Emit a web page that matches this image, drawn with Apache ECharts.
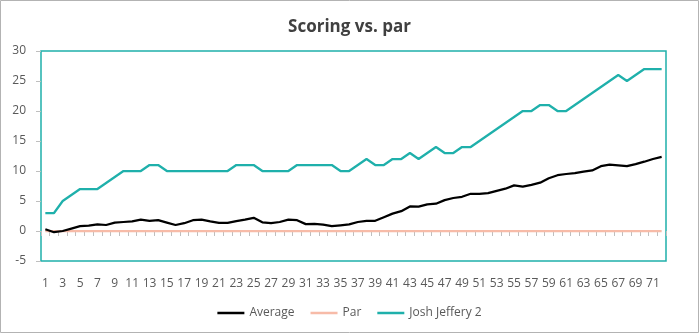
<!DOCTYPE html>
<html>
<head>
<meta charset="utf-8">
<script src="https://cdn.jsdelivr.net/npm/echarts@6/dist/echarts.min.js"></script>
<style>
html,body{margin:0;padding:0;background:#fff;}
#chart{width:699px;height:333px;}
</style>
</head>
<body>
<div id="chart"></div>
<script>
const categories = [];
for (let i = 1; i <= 72; i++) categories.push(String(i));

const average = [0.3,-0.2,0.0,0.4,0.8,0.9,1.1,1.0,1.4,1.5,1.6,1.9,1.7,1.8,1.4,1.0,1.3,1.8,1.9,1.6,1.35,1.35,1.65,1.9,
  2.2,1.45,1.3,1.5,1.9,1.8,1.15,1.2,1.05,0.8,0.95,1.1,1.5,1.7,1.7,2.3,2.9,3.3,4.1,4.05,4.45,4.55,5.15,5.5,
  5.7,6.2,6.2,6.3,6.7,7.05,7.6,7.4,7.7,8.05,8.8,9.3,9.5,9.65,9.9,10.1,10.8,11.05,10.95,10.8,11.15,11.55,12.0,12.35];
const par = new Array(72).fill(0);
const josh = [3,3,5,6,7,7,7,8,9,10,10,10,11,11,10,10,10,10,10,10,10,10,11,11,
  11,10,10,10,10,11,11,11,11,11,10,10,11,12,11,11,12,12,13,12,13,14,13,13,
  14,14,15,16,17,18,19,20,20,21,21,20,20,21,22,23,24,25,26,25,26,27,27,27];
const yTicks = {min: -5, max: 30, interval: 5};
const seriesNames = ['Average', 'Par', 'Josh Jeffery 2'];

const FONT = "'Open Sans', 'Noto Sans', sans-serif";
const TEAL = '#1FB0AB';
const chart = echarts.init(document.getElementById('chart'), null, {renderer: 'canvas'});
chart.setOption({
  animation: false,
  backgroundColor: '#fff',
  title: {
    text: 'Scoring vs. par',
    left: 'center',
    top: 14,
    textStyle: {fontFamily: FONT, fontSize: 17, fontWeight: 'bold', color: '#404040'}
  },
  graphic: [{
    type: 'rect', shape: {x: 0.5, y: 0.5, width: 698, height: 332},
    style: {fill: 'none', stroke: '#b3b3b3', lineWidth: 1}, silent: true, z: -1
  }],
  legend: {
    data: seriesNames,
    bottom: 9,
    left: 'center',
    itemWidth: 27,
    itemHeight: 10,
    itemGap: 16,
    icon: 'path://M0,0 L27,0 L27,2.5 L0,2.5 Z',
    textStyle: {fontFamily: FONT, fontSize: 12, color: '#595959'}
  },
  grid: {
    left: 41, right: 33, top: 51, bottom: 72,
    show: true, borderColor: TEAL, borderWidth: 1.5, containLabel: false
  },
  xAxis: [{
    type: 'category',
    data: categories,
    boundaryGap: true,
    position: 'bottom',
    axisLine: {show: false, onZero: false},
    axisTick: {show: false},
    axisLabel: {interval: 1, fontFamily: FONT, fontSize: 12, color: '#595959', margin: 17}
  }, {
    type: 'category',
    data: categories,
    boundaryGap: true,
    position: 'bottom',
    axisLine: {show: false, onZero: true},
    axisTick: {show: true, interval: 0, length: 5, lineStyle: {color: '#bfbfbf'}},
    axisLabel: {show: false}
  }],
  yAxis: {
    type: 'value',
    min: yTicks.min, max: yTicks.max, interval: yTicks.interval,
    axisLine: {show: false},
    axisTick: {show: true, length: 5, lineStyle: {color: '#bfbfbf'}},
    splitLine: {show: false},
    axisLabel: {fontFamily: FONT, fontSize: 12, color: '#595959', margin: 15}
  },
  series: [{
    name: seriesNames[0], type: 'line', data: average, xAxisIndex: 0,
    showSymbol: false, symbol: 'none', lineStyle: {color: '#000000', width: 2.25}, itemStyle: {color: '#000000'}, z: 3
  }, {
    name: seriesNames[1], type: 'line', data: par, xAxisIndex: 0,
    showSymbol: false, symbol: 'none', lineStyle: {color: '#F7BBA8', width: 2.25}, itemStyle: {color: '#F7BBA8'}, z: 2
  }, {
    name: seriesNames[2], type: 'line', data: josh, xAxisIndex: 0,
    showSymbol: false, symbol: 'none', lineStyle: {color: TEAL, width: 2.25}, itemStyle: {color: TEAL}, z: 4
  }]
});
</script>
</body>
</html>
